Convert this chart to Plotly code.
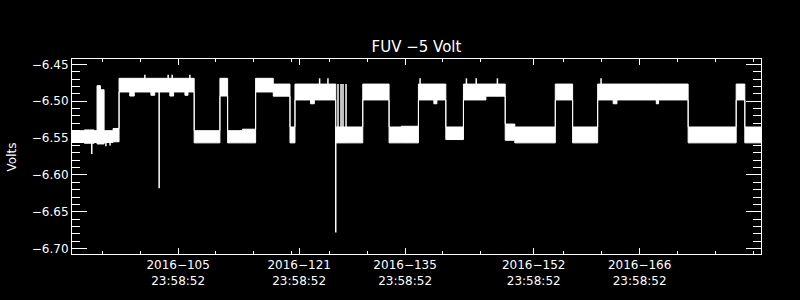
import plotly.graph_objects as go

# ---- data (day of year 2016, volts) ----
# envelope of the dense voltage trace: breakpoint day, upper value, lower value (held until next breakpoint)
env_day = [91.97, 93.6, 94.9, 95.28, 95.73, 96.21, 97.4, 98.19, 99.6, 100.2, 102.4, 102.9,
           104.9, 105.4, 106.9, 107.3, 108.12, 111.52, 112.54, 114.5, 116.24, 118.57,
           120.78, 121.44, 123.5, 124.0, 126.83, 130.40, 133.88, 135.5, 137.76, 139.8,
           140.2, 141.38, 143.71, 146.68, 149.23, 150.5, 155.85, 158.14, 161.45, 163.5,
           164.0, 169.2, 169.5, 173.41, 179.76, 180.90, 183.04]
env_upper = [-6.540, -6.539, -6.540, -6.479, -6.4845, -6.540, -6.537, -6.469, -6.469, -6.469, -6.469, -6.469,
             -6.469, -6.469, -6.469, -6.469, -6.540, -6.469, -6.540, -6.538, -6.469, -6.4768,
             -6.535, -6.4768, -6.4768, -6.4768, -6.535, -6.4768, -6.535, -6.534, -6.4768, -6.4768,
             -6.4768, -6.535, -6.4768, -6.4768, -6.531, -6.535, -6.4768, -6.535, -6.4768, -6.4768,
             -6.4768, -6.4768, -6.4768, -6.535, -6.4768, -6.535, -6.535]
env_lower = [-6.556, -6.557, -6.556, -6.558, -6.558, -6.556, -6.555, -6.4875, -6.493, -6.4875, -6.492, -6.4875,
             -6.493, -6.4875, -6.492, -6.4875, -6.5565, -6.493, -6.5565, -6.5565, -6.4875, -6.4932,
             -6.5565, -6.4983, -6.5035, -6.4983, -6.5565, -6.4983, -6.5565, -6.5565, -6.4983, -6.5035,
             -6.4983, -6.552, -6.4983, -6.4932, -6.553, -6.5565, -6.4983, -6.5565, -6.4983, -6.5035,
             -6.4983, -6.5035, -6.4983, -6.5565, -6.4983, -6.5565, -6.5565]

# isolated spikes: day, low end, high end
spike_day = [94.58, 96.45, 97.0, 103.49, 101.6, 104.68, 105.21, 107.55, 124.7, 125.8, 126.83,
             127.13, 127.53, 127.79, 128.19, 137.98, 144.1, 145.4, 148.2, 161.9]
spike_lo = [-6.5715, -6.561, -6.560, -6.618, -6.4875, -6.4875, -6.4875, -6.4875, -6.4983, -6.4983, -6.678,
            -6.5565, -6.5565, -6.5565, -6.5565, -6.4983, -6.4983, -6.4983, -6.4932, -6.4983]
spike_hi = [-6.556, -6.556, -6.556, -6.4875, -6.464, -6.464, -6.464, -6.464, -6.469, -6.469, -6.535,
            -6.4768, -6.4768, -6.4768, -6.4768, -6.469, -6.469, -6.469, -6.469, -6.469]

# axis ticks
x_major = [105.9992, 121.9992, 135.9992, 152.9992, 166.9992]
x_labels = ["2016\u2212105<br>23:58:52", "2016\u2212121<br>23:58:52", "2016\u2212135<br>23:58:52",
            "2016\u2212152<br>23:58:52", "2016\u2212166<br>23:58:52"]
x_minor = [96, 101, 111, 116, 121, 126, 131, 141, 146, 157, 162, 172, 177, 182]
y_major = [-6.45, -6.50, -6.55, -6.60, -6.65, -6.70]
y_labels = ["\u22126.45", "\u22126.50", "\u22126.55", "\u22126.60", "\u22126.65", "\u22126.70"]

FONT = "DejaVu Sans"

fig = go.Figure()
fig.add_trace(go.Scatter(x=env_day, y=env_upper, mode="lines", line=dict(color="white", width=1, shape="hv"),
                         hoverinfo="skip", showlegend=False))
fig.add_trace(go.Scatter(x=env_day, y=env_lower, mode="lines", line=dict(color="white", width=1, shape="hv"),
                         fill="tonexty", fillcolor="white", hoverinfo="skip", showlegend=False))

sx, sy = [], []
for d, lo, hi in zip(spike_day, spike_lo, spike_hi):
    sx += [d, d, None]
    sy += [lo, hi, None]
fig.add_trace(go.Scatter(x=sx, y=sy, mode="lines", line=dict(color="white", width=1.5),
                         hoverinfo="skip", showlegend=False))

fig.update_layout(
    width=800, height=300,
    margin=dict(l=72, r=39, t=59, b=37),
    paper_bgcolor="black", plot_bgcolor="black",
    font=dict(family=FONT, color="white", size=12),
    title=dict(text="FUV \u22125 Volt", x=0.5, xref="paper", y=1 - 47 / 300, yref="container",
               xanchor="center", yanchor="middle", font=dict(size=15, color="white", family=FONT)),
    showlegend=False,
)
fig.update_xaxes(
    range=[91.97, 183.04], showgrid=False, zeroline=False,
    showline=True, linecolor="white", linewidth=1, mirror="allticks",
    ticks="inside", ticklen=6, tickcolor="white", tickwidth=1,
    tickmode="array", tickvals=x_major, ticktext=x_labels,
    tickfont=dict(size=12, color="white", family=FONT),
    minor=dict(tickmode="array", tickvals=x_minor, ticks="inside", ticklen=3, tickcolor="white", showgrid=False),
)
fig.update_yaxes(
    range=[-6.7072, -6.4428], showgrid=False, zeroline=False,
    showline=True, linecolor="white", linewidth=1, mirror="allticks",
    ticks="inside", ticklen=15, tickcolor="white", tickwidth=1,
    tickmode="array", tickvals=y_major, ticktext=y_labels,
    tickfont=dict(size=12, color="white", family=FONT),
    minor=dict(dtick=0.01, tick0=-6.70, ticks="inside", ticklen=8, tickcolor="white", showgrid=False),
)
fig.add_annotation(text="Volts", textangle=-90, xref="paper", yref="paper",
                   x=(12 - 72) / 689, y=(263 - 162) / 204, xanchor="center", yanchor="middle",
                   showarrow=False, font=dict(size=12, color="white", family=FONT))

fig.write_html("out.html")
